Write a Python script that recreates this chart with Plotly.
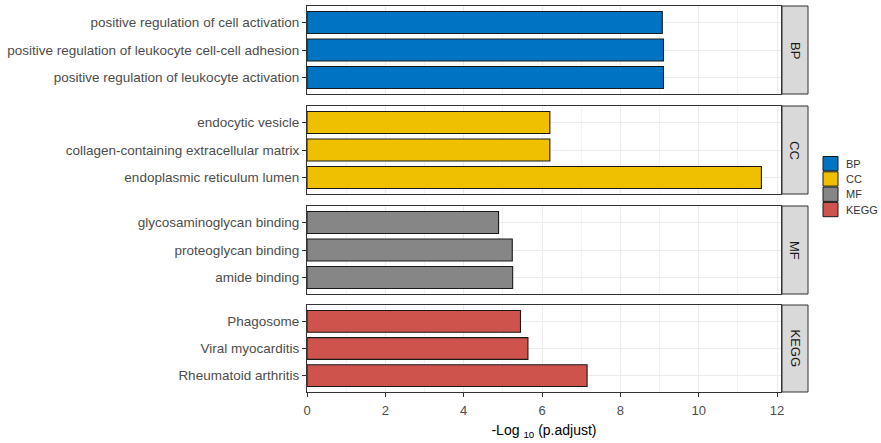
import plotly.graph_objects as go

groups = ["BP", "CC", "MF", "KEGG"]
colors = ["#0073C2", "#EFC000", "#868686", "#CD534C"]

bp_terms = ["positive regulation of cell activation",
            "positive regulation of leukocyte cell-cell adhesion",
            "positive regulation of leukocyte activation"]
bp_vals = [9.07, 9.10, 9.10]

cc_terms = ["endocytic vesicle",
            "collagen-containing extracellular matrix",
            "endoplasmic reticulum lumen"]
cc_vals = [6.20, 6.20, 11.60]

mf_terms = ["glycosaminoglycan binding",
            "proteoglycan binding",
            "amide binding"]
mf_vals = [4.89, 5.24, 5.25]

kegg_terms = ["Phagosome",
              "Viral myocarditis",
              "Rheumatoid arthritis"]
kegg_vals = [5.45, 5.64, 7.15]

x_ticks = [0, 2, 4, 6, 8, 10, 12]
x_title = "-Log <sub>10</sub> (p.adjust)"

terms = [bp_terms, cc_terms, mf_terms, kegg_terms]
vals = [bp_vals, cc_vals, mf_vals, kegg_vals]

W, H = 881, 443
ml, mr, mt, mb = 307, 100, 6, 51
plot_w = W - ml - mr
plot_h = H - mt - mb


def px_x(px):
    return (px - ml) / plot_w


def px_y(py):
    return (H - mb - py) / plot_h


panel_px = [(6, 94), (106, 194), (206, 294), (305, 392)]
domains = [[max(0.0, px_y(b)), min(1.0, px_y(t))] for t, b in panel_px]

font_family = "Liberation Sans, Arial, sans-serif"
fig = go.Figure()
layout = {}
for i, g in enumerate(groups):
    n = i + 1
    xa = "x" if n == 1 else f"x{n}"
    ya = "y" if n == 1 else f"y{n}"
    fig.add_trace(go.Bar(
        x=vals[i], y=terms[i], orientation="h", name=g,
        marker=dict(color=colors[i], line=dict(color="#1a1a1a", width=1.1)),
        width=0.8, xaxis=xa, yaxis=ya, showlegend=False,
    ))
    xkey = "xaxis" if n == 1 else f"xaxis{n}"
    ykey = "yaxis" if n == 1 else f"yaxis{n}"
    layout[xkey] = dict(
        domain=[0, 1], anchor=ya, range=[0, 12.1],
        tickvals=x_ticks, showticklabels=(n == 4),
        ticks="outside" if n == 4 else "", ticklen=4, tickwidth=1, tickcolor="#333333",
        ticklabelstandoff=2,
        showgrid=True, gridcolor="#ebebeb", gridwidth=1,
        minor=dict(dtick=1, tick0=1, showgrid=True, gridcolor="#f3f3f3", gridwidth=0.6),
        showline=True, mirror=True, linecolor="#333333", linewidth=1.2,
        zeroline=False, fixedrange=True,
        tickfont=dict(size=13, color="#4d4d4d", family=font_family),
        matches=None if n == 4 else "x4",
    )
    if n == 4:
        layout[xkey]["title"] = dict(text=x_title, standoff=8,
                                     font=dict(size=14, color="#000000", family=font_family))
    layout[ykey] = dict(
        domain=domains[i], anchor=xa, type="category",
        categoryorder="array", categoryarray=terms[i],
        range=[2.6, -0.6],
        ticks="outside", ticklen=4, tickwidth=1, tickcolor="#333333",
        showgrid=True, gridcolor="#ebebeb", gridwidth=1,
        showline=True, mirror=True, linecolor="#333333", linewidth=1.2,
        zeroline=False, fixedrange=True,
        tickfont=dict(size=13.5, color="#4d4d4d", family=font_family),
    )

shapes = []
annotations = []
sx0 = px_x(782)
sx1 = px_x(808)
for i, g in enumerate(groups):
    d = domains[i]
    shapes.append(dict(type="rect", xref="paper", yref="paper",
                       x0=sx0, x1=sx1, y0=d[0], y1=d[1],
                       fillcolor="#d9d9d9", line=dict(color="#333333", width=1)))
    annotations.append(dict(xref="paper", yref="paper", x=(sx0 + sx1) / 2, y=(d[0] + d[1]) / 2,
                            text=g, showarrow=False, textangle=90,
                            xanchor="center", yanchor="middle",
                            font=dict(size=13, color="#1a1a1a", family=font_family)))

# legend drawn as keys + labels
key_top = 156
key_h = 15.3
for i, g in enumerate(groups):
    y0 = key_top + i * key_h
    shapes.append(dict(type="rect", xref="paper", yref="paper",
                       x0=px_x(823), x1=px_x(838), y0=px_y(y0 + key_h - 0.5), y1=px_y(y0 + 0.5),
                       fillcolor=colors[i], line=dict(color="#1a1a1a", width=1)))
    annotations.append(dict(xref="paper", yref="paper", x=px_x(844), y=px_y(y0 + key_h / 2),
                            text=g, showarrow=False, xanchor="left", yanchor="middle",
                            font=dict(size=11, color="#333333", family=font_family)))

fig.update_layout(
    **layout,
    width=W, height=H,
    margin=dict(l=ml, r=mr, t=mt, b=mb),
    paper_bgcolor="white", plot_bgcolor="white",
    barmode="overlay",
    shapes=shapes, annotations=annotations,
    showlegend=False,
    font=dict(family=font_family),
)

fig.write_html("out.html", config={"displayModeBar": False},
               post_script="document.body.style.margin='0';document.body.style.padding='0';")
